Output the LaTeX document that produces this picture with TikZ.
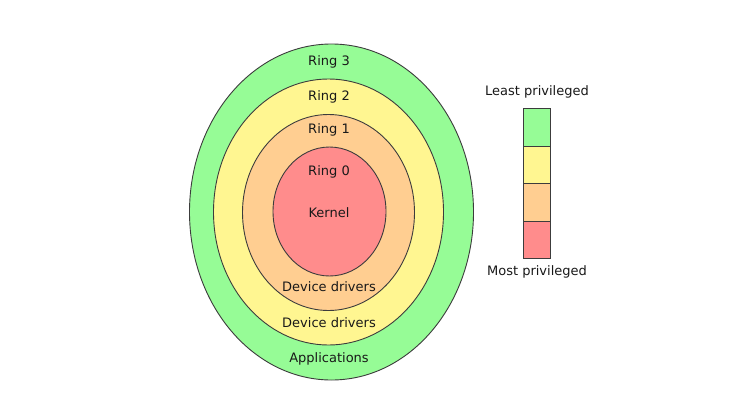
\documentclass[tikz,border=0pt]{standalone}
\usepackage{fontspec}
\setmainfont{DejaVu Sans}
\usetikzlibrary{shapes.geometric}
\definecolor{rgreen}{RGB}{150,252,150}
\definecolor{ryellow}{RGB}{255,246,145}
\definecolor{rorange}{RGB}{255,206,145}
\definecolor{rred}{RGB}{255,140,140}
\definecolor{edge}{RGB}{60,60,60}
\definecolor{txt}{RGB}{25,25,25}
\tikzset{
  ring/.style={ellipse, draw=edge, line width=0.9pt, inner sep=0pt},
  lab/.style={font=\fontsize{13}{15}\selectfont, text=txt, inner sep=0pt, anchor=center},
  legbox/.style={rectangle, draw=edge, line width=0.9pt, minimum width=27pt, inner sep=0pt}
}
\begin{document}
\begin{tikzpicture}[x=1pt,y=-1pt]
\useasboundingbox[fill=white] (0,0) rectangle (735,415);
\node[ring, fill=rgreen, minimum width=284pt, minimum height=336pt] (r3) at (331.5,212) {};
\node[ring, fill=ryellow, minimum width=230pt, minimum height=266pt] (r2) at (328.5,212) {};
\node[ring, fill=rorange, minimum width=172pt, minimum height=196pt] (r1) at (328.5,212.5) {};
\node[ring, fill=rred, minimum width=113pt, minimum height=129pt] (r0) at (329.5,211.5) {};
\node[lab] (t3) at (329,62) {Ring 3};
\node[lab] (t2) at (329,97) {Ring 2};
\node[lab] (t1) at (329,130) {Ring 1};
\node[lab] (t0) at (329,172) {Ring 0};
\node[lab] (tk) at (329,213) {Kernel};
\node[lab] (td1) at (329,287) {Device drivers};
\node[lab] (td2) at (329,323) {Device drivers};
\node[lab] (ta) at (329,359) {Applications};
\node[legbox, fill=rgreen, minimum height=38pt] (lg) at (536.5,127) {};
\node[legbox, fill=ryellow, minimum height=37pt] (ly) at (536.5,164.5) {};
\node[legbox, fill=rorange, minimum height=38pt] (lo) at (536.5,202) {};
\node[legbox, fill=rred, minimum height=37pt] (lr) at (536.5,239.5) {};
\node[lab] (least) at (537,92) {Least privileged};
\node[lab] (most) at (537,272) {Most privileged};
\end{tikzpicture}
\end{document}
